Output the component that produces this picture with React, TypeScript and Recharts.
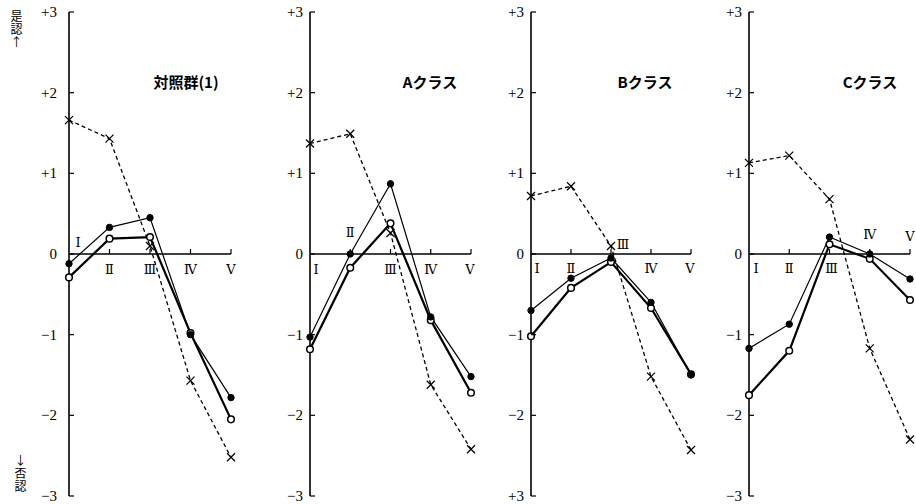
import React from 'react';
import { LineChart, Line, XAxis, YAxis, ReferenceLine, ReferenceDot } from 'recharts';

// ---- data ----
const romanLabels = ['Ⅰ', 'Ⅱ', 'Ⅲ', 'Ⅳ', 'Ⅴ'];
const panelTitles = ['対照群(1)', 'Aクラス', 'Bクラス', 'Cクラス'];
const yTicks = [-3, -2, -1, 0, 1, 2, 3];
const yTickLabels = ['−3', '−2', '−1', '0', '+1', '+2', '+3'];
const yTickLabelsB = ['+3', '−2', '−1', '0', '+1', '+2', '+3'];
const topSideText = '是認↑';
const bottomSideText = '↓否認';

const controlFilled = [-0.12, 0.33, 0.45, -1.0, -1.78];
const controlOpen = [-0.29, 0.19, 0.21, -0.98, -2.05];
const controlCross = [1.66, 1.43, 0.1, -1.57, -2.52];

const aFilled = [-1.03, 0.0, 0.87, -0.78, -1.52];
const aOpen = [-1.18, -0.17, 0.38, -0.82, -1.72];
const aCross = [1.37, 1.49, 0.26, -1.62, -2.42];

const bFilled = [-0.7, -0.3, -0.05, -0.6, -1.5];
const bOpen = [-1.02, -0.42, -0.1, -0.67, -1.49];
const bCross = [0.72, 0.84, 0.1, -1.52, -2.43];

const cFilled = [-1.17, -0.87, 0.21, 0.0, -0.31];
const cOpen = [-1.75, -1.2, 0.12, -0.06, -0.57];
const cCross = [1.13, 1.22, 0.68, -1.17, -2.3];

// ---- layout (styles / positions) ----
type Off = [number, number];
const panels = [
  {
    title: panelTitles[0], filled: controlFilled, open: controlOpen, cross: controlCross,
    yLabels: yTickLabels, axisX: 69, span: 162, titleX: 186, gap: 12,
    xOff: [[9, -12], [0, 15], [0, 15], [0, 15], [0, 15]] as Off[],
  },
  {
    title: panelTitles[1], filled: aFilled, open: aOpen, cross: aCross,
    yLabels: yTickLabels, axisX: 310, span: 161, titleX: 430, gap: 7,
    xOff: [[6, 15], [0, -22], [0, 15], [0, 15], [-1, 15]] as Off[],
  },
  {
    title: panelTitles[2], filled: bFilled, open: bOpen, cross: bCross,
    yLabels: yTickLabelsB, axisX: 531, span: 160, titleX: 645, gap: 7,
    xOff: [[6, 14], [0, 14], [12, -10], [0, 14], [-1, 14]] as Off[],
  },
  {
    title: panelTitles[3], filled: cFilled, open: cOpen, cross: cCross,
    yLabels: yTickLabels, axisX: 749, span: 161, titleX: 870, gap: 7,
    xOff: [[7, 14], [0, 14], [2, 14], [0, -20], [0, -18]] as Off[],
  },
];

const PLOT_LEFT = 40;
const serif = '"Liberation Serif", "DejaVu Serif", serif';

const CrossDot = (props: any) => {
  const { cx, cy } = props;
  if (cx == null || cy == null) return null;
  const s = 4;
  return (
    <g>
      <line x1={cx - s} y1={cy - s} x2={cx + s} y2={cy + s} stroke="#000" strokeWidth={1.3} />
      <line x1={cx - s} y1={cy + s} x2={cx + s} y2={cy - s} stroke="#000" strokeWidth={1.3} />
    </g>
  );
};

function Panel({ p }: { p: (typeof panels)[number] }) {
  const data = romanLabels.map((_, i) => ({
    i,
    filled: p.filled[i],
    open: p.open[i],
    cross: p.cross[i],
  }));
  const width = PLOT_LEFT + p.span + 6;
  const YTick = (props: any) => {
    const { x, y, payload } = props;
    const idx = yTicks.indexOf(payload.value);
    return (
      <g>
        <line x1={x} y1={y} x2={x + 5} y2={y} stroke="#000" strokeWidth={1.2} />
        <text x={x - p.gap} y={y} dy={5} textAnchor="end" fontFamily={serif} fontSize={15} fill="#000">
          {p.yLabels[idx]}
        </text>
      </g>
    );
  };
  return (
    <div style={{ position: 'absolute', left: p.axisX - PLOT_LEFT, top: 0 }}>
      <LineChart width={width} height={504} data={data} margin={{ top: 12, right: 6, bottom: 8, left: 10 }}>
        <XAxis type="number" dataKey="i" domain={[0, 4]} hide />
        <YAxis
          type="number"
          domain={[-3, 3]}
          ticks={yTicks}
          interval={0}
          width={30}
          tickSize={0}
          tickMargin={0}
          tickLine={false}
          axisLine={{ stroke: '#000', strokeWidth: 1.6 }}
          tick={YTick}
        />
        <ReferenceLine y={0} stroke="#000" strokeWidth={1.4} />
        {romanLabels.map((lab, i) => (
          <ReferenceDot
            key={lab}
            x={i}
            y={0}
            r={0}
            shape={(sp: any) => {
              const { cx, cy } = sp;
              const [dx, dy] = p.xOff[i];
              return (
                <g>
                  {i > 0 && <line x1={cx} y1={cy} x2={cx} y2={cy - 5} stroke="#000" strokeWidth={1.2} />}
                  <text x={cx + dx} y={cy + dy} dy={5} textAnchor="middle" fontFamily='"DejaVu Serif", serif' fontSize={13} fill="#000">
                    {lab}
                  </text>
                </g>
              );
            }}
          />
        ))}
        <Line
          dataKey="cross"
          stroke="#000"
          strokeWidth={1.3}
          strokeDasharray="4 3"
          dot={<CrossDot />}
          isAnimationActive={false}
          type="linear"
        />
        <Line
          dataKey="open"
          stroke="#000"
          strokeWidth={2.2}
          dot={{ r: 3.3, fill: '#fff', stroke: '#000', strokeWidth: 1.5 }}
          isAnimationActive={false}
          type="linear"
        />
        <Line
          dataKey="filled"
          stroke="#000"
          strokeWidth={1.2}
          dot={{ r: 3.2, fill: '#000', stroke: '#000', strokeWidth: 1 }}
          isAnimationActive={false}
          type="linear"
        />
      </LineChart>
      <div
        style={{
          position: 'absolute',
          left: p.titleX - (p.axisX - PLOT_LEFT) - 60,
          top: 71,
          width: 120,
          textAlign: 'center',
          fontFamily: '"Noto Sans CJK JP", sans-serif',
          fontWeight: 700,
          fontSize: 15,
          lineHeight: '22px',
          color: '#000',
        }}
      >
        {p.title}
      </div>
    </div>
  );
}

const sideStyle: React.CSSProperties = {
  position: 'absolute',
  writingMode: 'vertical-rl',
  textOrientation: 'upright',
  fontFamily: '"Noto Sans CJK JP", sans-serif',
  fontSize: 12,
  lineHeight: '14px',
  letterSpacing: '1px',
  color: '#000',
};

export default function App() {
  return (
    <div style={{ position: 'absolute', left: 0, top: 0, width: 916, height: 504, background: '#fff', overflow: 'hidden' }}>
      {panels.map((p) => (
        <Panel key={p.title} p={p} />
      ))}
      <div style={{ ...sideStyle, left: 9, top: 10 }}>{topSideText}</div>
      <div style={{ ...sideStyle, left: 13, top: 454 }}>{bottomSideText}</div>
    </div>
  );
}
